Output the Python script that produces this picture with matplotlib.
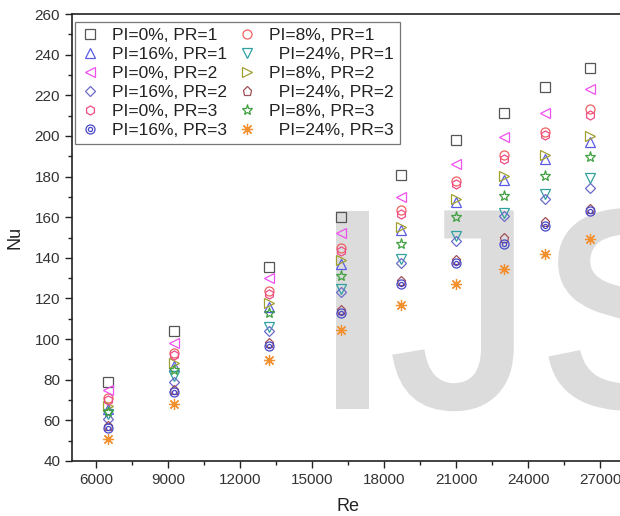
import matplotlib
matplotlib.use("Agg")
import matplotlib.pyplot as plt
import matplotlib.patheffects as pe
from matplotlib.legend_handler import HandlerTuple
from matplotlib.ticker import MultipleLocator

plt.rcParams['font.family'] = ['Liberation Sans', 'DejaVu Sans']

# Reynolds numbers of the test points
re = [6500, 9250, 13200, 16200, 18700, 21000, 23000, 24700, 26600]

# Nusselt number for each porosity index (PI) / pitch ratio (PR)
nu_pi0_pr1 = [79, 104, 135.5, 160, 181, 198, 211.5, 224, 233.5]
nu_pi8_pr1 = [71, 93, 123.5, 145, 163.5, 178, 190.5, 202, 213]
nu_pi16_pr1 = [65.5, 87, 116, 137, 153.5, 167.5, 178.5, 188.5, 197]
nu_pi24_pr1 = [63, 82, 106, 124.5, 139.5, 150.5, 162, 171.5, 179.5]
nu_pi0_pr2 = [75, 98, 130, 152, 170, 186, 199.5, 211.5, 223]
nu_pi8_pr2 = [67, 88, 118, 139, 155, 169, 180.5, 190.5, 200]
nu_pi16_pr2 = [60.5, 79, 104, 123, 137.5, 148.5, 160.5, 169, 174.5]
nu_pi24_pr2 = [57, 75, 98, 114.5, 128.5, 139, 150, 157.5, 164]
nu_pi0_pr3 = [70, 92, 122, 143.5, 161.5, 176.5, 188.5, 200.5, 210.5]
nu_pi8_pr3 = [64, 85, 113, 131, 147, 160, 170.5, 180.5, 189.5]
nu_pi16_pr3 = [56, 74, 96.5, 113, 127, 137.5, 147, 155.5, 163]
nu_pi24_pr3 = [51, 68, 89.5, 104.5, 117, 127, 134.5, 142, 149.5]

series = [
    ("PI=0%, PR=1", nu_pi0_pr1, "s", "#555555"),
    ("PI=8%, PR=1", nu_pi8_pr1, "o", "#f06060"),
    ("PI=16%, PR=1", nu_pi16_pr1, "^", "#5a5ae6"),
    ("  PI=24%, PR=1", nu_pi24_pr1, "v", "#30a0a0"),
    ("PI=0%, PR=2", nu_pi0_pr2, "<", "#f050f0"),
    ("PI=8%, PR=2", nu_pi8_pr2, ">", "#a0a030"),
    ("PI=16%, PR=2", nu_pi16_pr2, "D", "#6a6ac8"),
    ("  PI=24%, PR=2", nu_pi24_pr2, "p", "#a05058"),
    ("PI=0%, PR=3", nu_pi0_pr3, "h", "#f04c88"),
    ("PI=8%, PR=3", nu_pi8_pr3, "*", "#40a040"),
    ("PI=16%, PR=3", nu_pi16_pr3, "dot", "#4848c8"),
    ("  PI=24%, PR=3", nu_pi24_pr3, (8, 2, 0), "#f39030"),
]

fig = plt.figure(figsize=(6.2, 5.16), dpi=100)
ax = fig.add_axes([72 / 620, 55 / 516, 552 / 620, 447 / 516])

# faint journal watermark behind the data, one letter at a time
wm = "#dcdcdc"
for letter, xl in (("I", 313), ("J", 392), ("S", 540)):
    ax.text(xl / 620, 111 / 516, letter, transform=fig.transFigure,
            fontsize=200, color=wm, ha="left", va="baseline",
            zorder=0.5, clip_on=False,
            path_effects=[pe.withStroke(linewidth=5, foreground=wm,
                                        joinstyle="miter")])

handles = {}
for label, y, marker, color in series:
    if marker == "dot":
        h1, = ax.plot(re, y, ls="none", marker="o", ms=6.5, mfc="none",
                      mec=color, mew=0.9, zorder=3)
        h2, = ax.plot(re, y, ls="none", marker="o", ms=3, mfc="none",
                      mec=color, mew=0.9, zorder=3)
        handles[label] = (h1, h2)
    else:
        ms = 6.5
        if marker == "D":
            ms = 5.2
        elif marker == "*" or isinstance(marker, tuple):
            ms = 8
        h, = ax.plot(re, y, ls="none", marker=marker, ms=ms, mfc="none",
                     mec=color, mew=0.9, zorder=3)
        handles[label] = h

ax.set_xlim(5000, 28000)
ax.set_ylim(40, 260)
ax.xaxis.set_major_locator(MultipleLocator(3000))
ax.xaxis.set_minor_locator(MultipleLocator(1500))
ax.yaxis.set_major_locator(MultipleLocator(20))
ax.yaxis.set_minor_locator(MultipleLocator(10))
ax.set_xticks([6000, 9000, 12000, 15000, 18000, 21000, 24000, 27000])
ax.tick_params(which="both", direction="out", colors="#222222",
               labelcolor="#333333", labelsize=11, width=1.0)
ax.tick_params(which="major", length=5)
ax.tick_params(which="minor", length=3)
ax.tick_params(top=False, right=False)
ax.spines["right"].set_visible(False)
for s in ("left", "bottom", "top"):
    ax.spines[s].set_linewidth(1.2)
    ax.spines[s].set_color("#222222")

ax.set_xlabel("Re", fontsize=13, color="#222222", labelpad=8)
ax.set_ylabel("Nu", fontsize=13, color="#222222", labelpad=8)

# legend laid out row by row, two entries per row
labels = [s[0] for s in series]
order = labels[0::2] + labels[1::2]
leg = ax.legend([handles[l] for l in order], order, ncol=2,
                handler_map={tuple: HandlerTuple(ndivide=1)},
                loc="upper left", bbox_to_anchor=(75 / 620, 1 - 22 / 516),
                bbox_transform=fig.transFigure, borderaxespad=0,
                fontsize=12.5, frameon=True, fancybox=False,
                handlelength=1.0, handletextpad=0.8, labelspacing=0.22,
                columnspacing=0.6, borderpad=0.35)
leg.get_frame().set_edgecolor("#555555")
leg.get_frame().set_linewidth(0.9)
for t in leg.get_texts():
    t.set_color("#222222")

fig.savefig("out.png", dpi=100)
